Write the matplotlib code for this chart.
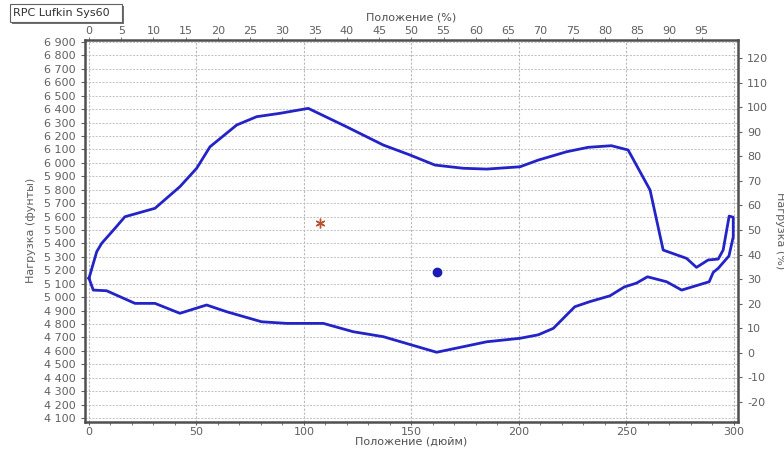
import matplotlib
matplotlib.use("Agg")
import matplotlib.pyplot as plt
from matplotlib.ticker import MultipleLocator, FuncFormatter
from matplotlib.patches import Rectangle

plt.rcParams['font.family'] = ['DejaVu Sans']
plt.rcParams['axes.unicode_minus'] = False

# Dynamogram loop: position (inches) and load (lbs)
pos = [0, 3.6, 5.9, 12.1, 16.7, 30.7, 42.3, 50.1, 56.3, 68.7, 78, 88.8, 102,
       119.8, 136.9, 149.3, 160.9, 174.1, 185, 200.5, 209, 222.2, 232.2, 243,
       250.8, 261, 267.1, 278, 282.6, 288, 292.7, 295, 297.8, 299.7,
       299.7, 297.7, 292.7, 290.4, 288.5, 275.7, 268.7, 259.8, 254.7, 249,
       242.3, 233, 226, 216, 209, 200.5, 185, 174, 161.7, 136.9, 122.9, 109,
       92, 80.3, 64, 54.7, 42.3, 30.7, 21.4, 8.2, 2, 0]
load = [5141, 5339, 5401, 5513, 5599, 5662, 5823, 5960, 6120, 6282, 6344, 6369, 6406,
        6269, 6133, 6059, 5984, 5960, 5954, 5971, 6021, 6083, 6116, 6128,
        6096, 5798, 5351, 5289, 5222, 5277, 5284, 5351, 5604, 5595,
        5450, 5307, 5215, 5185, 5115, 5053, 5115, 5152, 5105, 5076,
        5010, 4967, 4929, 4768, 4720, 4694, 4668, 4631, 4590, 4706, 4743, 4805,
        4805, 4817, 4892, 4942, 4880, 4954, 4954, 5048, 5053, 5141]

star_pt = (107.4, 5550)
dot_pt = (161.7, 5190)

title = "RPC Lufkin Sys60"
xlabel_bottom = "Положение (дюйм)"
xlabel_top = "Положение (%)"
ylabel_left = "Нагрузка (фунты)"
ylabel_right = "Нагрузка (%)"

stroke_len = 300.0

fig = plt.figure(figsize=(7.84, 4.5), dpi=100)
ax = fig.add_axes([0.1084, 0.0629, 0.8329, 0.8482])

tick_col = '#606060'
spine_col = '#505050'

ax.plot(pos, load, color='#2323c8', lw=2.0, solid_joinstyle='round')
ax.plot(*star_pt, marker=(6, 2, 0), color='#b5532e', markersize=7, mew=1.0, ls='none')
ax.plot(*dot_pt, marker='o', color='#1a1ab4', markersize=6, ls='none')

ax.set_xlim(-1.86, 301.9)
ax.set_ylim(4073, 6915)
ax.xaxis.set_major_locator(MultipleLocator(50))
ax.xaxis.set_minor_locator(MultipleLocator(10))
ax.yaxis.set_major_locator(MultipleLocator(100))
ax.yaxis.set_major_formatter(FuncFormatter(lambda v, p: f"{int(round(v)):,}".replace(",", " ")))

ax.grid(True, which='major', axis='x', color='#b8b8b8', ls=(0, (2, 1.5)), lw=0.8)
ax.grid(True, which='major', axis='y', color='#c0c0c0', ls=(0, (2, 1.5)), lw=0.7)

for s in ax.spines.values():
    s.set_color(spine_col)
    s.set_linewidth(1.8)

ax.tick_params(axis='y', which='major', colors=tick_col, labelsize=8, length=3, width=0.8)
ax.tick_params(axis='x', which='major', colors=tick_col, labelsize=8, length=2, width=0.8, pad=1.5)
ax.tick_params(axis='x', which='minor', colors=tick_col, length=2, width=0.6)
ax.set_xlabel(xlabel_bottom, color='#505050', fontsize=8, labelpad=0)
ax.set_ylabel(ylabel_left, color='#606060', fontsize=8, labelpad=6)

# top axis: percent of stroke
top = ax.secondary_xaxis('top', functions=(lambda x: x / stroke_len * 100, lambda p: p * stroke_len / 100))
top.set_xticks(list(range(0, 100, 5)))
top.tick_params(colors=tick_col, labelsize=8, length=2, width=0.6, pad=1)
top.set_xlabel(xlabel_top, color='#505050', fontsize=8, labelpad=4)
top.spines['top'].set_visible(False)

# right axis: load percent
ax2 = ax.twinx()
ax2.set_ylim(-28.2, 127.5)
ax2.set_yticks(list(range(-20, 121, 10)))
ax2.tick_params(colors=tick_col, labelsize=8, length=3, width=0.8)
ax2.set_ylabel(ylabel_right, color='#606060', fontsize=8, rotation=270, labelpad=12)
for s in ax2.spines.values():
    s.set_visible(False)

# title box with shadow
fig.patches.append(Rectangle((12 / 784, 1 - 24 / 450), 112 / 784, 18 / 450,
                             transform=fig.transFigure, facecolor='#707070', edgecolor='none', zorder=1))
fig.patches.append(Rectangle((10 / 784, 1 - 22 / 450), 112 / 784, 18 / 450,
                             transform=fig.transFigure, facecolor='white', edgecolor='#606060', lw=0.8, zorder=2))
fig.text(13 / 784, 1 - 13 / 450, title, fontsize=8, color='#303030', va='center', ha='left', zorder=3)

fig.savefig("out.png", dpi=100)
